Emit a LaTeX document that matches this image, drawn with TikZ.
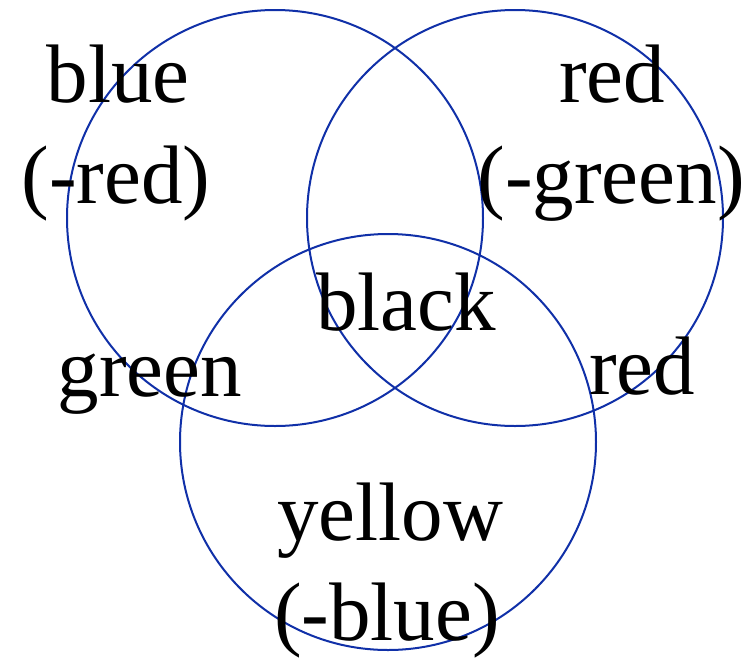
\documentclass[tikz,border=0pt]{standalone}
\usepackage{fontspec}
\setmainfont{Liberation Serif}
\definecolor{ringblue}{RGB}{16,48,168}
\begin{document}
\begin{tikzpicture}[x=1pt,y=-1pt,
  ring/.style={draw=ringblue,line width=2pt},
  lab/.style={anchor=base,inner sep=0pt,font=\fontsize{83}{100}\selectfont}]
\useasboundingbox (0,0) rectangle (756,657);
\draw[ring] (275,218) circle[radius=208];
\draw[ring] (515,218) circle[radius=208];
\draw[ring] (388,442) circle[radius=208];
\node[lab] (blue1) at (118,102) {blue};
\node[lab] (blue2) at (116,203) {(-red)};
\node[lab] (red1) at (612,102) {red};
\node[lab] (red2) at (611,203) {(-green)};
\node[lab] (black) at (406,330) {black};
\node[lab] (green) at (150,396) {green};
\node[lab] (red3) at (642,394) {red};
\node[lab] (yel1) at (390,540) {yellow};
\node[lab] (yel2) at (387,640) {(-blue)};
\end{tikzpicture}
\end{document}
